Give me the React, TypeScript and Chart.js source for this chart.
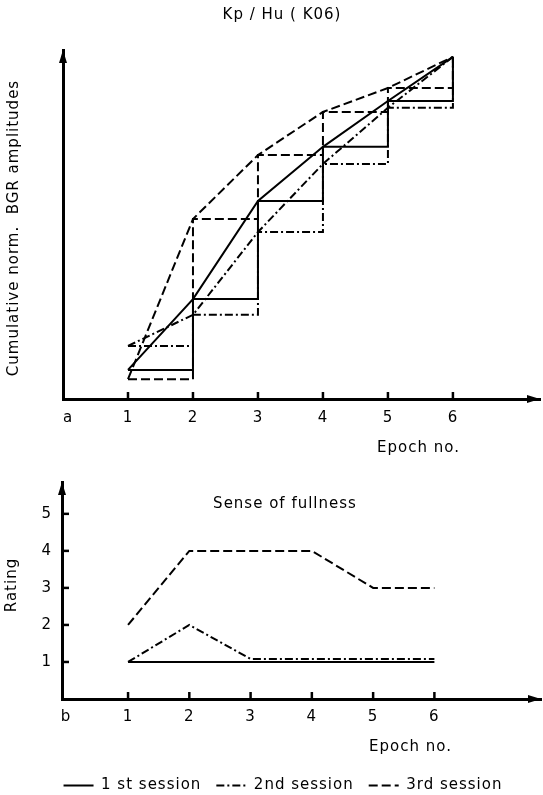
import React, { useEffect, useRef } from 'react';
import { Chart, registerables } from 'chart.js';

Chart.register(...registerables);

const FONT = '"DejaVu Sans", "Liberation Sans", sans-serif';
Chart.defaults.font.family = FONT;
Chart.defaults.font.size = 15;
Chart.defaults.color = '#000';

// Epochs on the horizontal axis of both panels
const epochs = [1, 2, 3, 4, 5, 6];

// Panel a: cumulative normalised BGR amplitudes (value at epoch 6 = 1)
const bgrSession1 = [0.085, 0.292, 0.579, 0.737, 0.871, 1.0];
const bgrSession2 = [0.155, 0.246, 0.488, 0.687, 0.851, 1.0];
const bgrSession3 = [0.058, 0.526, 0.713, 0.839, 0.909, 1.0];

// Panel b: sense of fullness rating
const ratingSession1 = [1, 1, 1, 1, 1, 1];
const ratingSession2 = [1, 2, 1.08, 1.08, 1.08, 1.08];
const ratingSession3 = [2, 4, 4, 4, 3, 3];
const ratingTicks = [1, 2, 3, 4, 5];

const sessionNames = ['1 st session', '2nd session', '3rd session'];

// line style per session: solid, dash-dot, dashed
const sessionDash: number[][] = [[], [8, 3, 2, 3], [9, 4]];

const INK = '#000';

const points = (vals: number[]) => epochs.map((e, i) => ({ x: e, y: vals[i] }));

// wider lettering, like stencil text
const lettering = {
  id: 'lettering',
  beforeUpdate(chart: any) {
    chart.ctx.letterSpacing = '1px';
  },
  beforeDraw(chart: any) {
    chart.ctx.letterSpacing = '1px';
  },
};

// arrowheads, tick stubs and free text around the axes
const axisDecor = {
  id: 'axisDecor',
  afterDraw(chart: any, _args: any, opts: any) {
    const { ctx, chartArea: ca, scales } = chart;
    const x = scales.x;
    const y = scales.y;
    const ax = ca.left;
    const ay = ca.bottom;
    ctx.save();
    ctx.fillStyle = INK;
    ctx.strokeStyle = INK;
    ctx.setLineDash([]);

    // arrowheads
    ctx.beginPath();
    ctx.moveTo(ax, ca.top);
    ctx.lineTo(ax - 4, ca.top + 13);
    ctx.lineTo(ax + 4, ca.top + 13);
    ctx.closePath();
    ctx.fill();
    ctx.beginPath();
    ctx.moveTo(ca.right, ay);
    ctx.lineTo(ca.right - 13, ay - 4);
    ctx.lineTo(ca.right - 13, ay + 4);
    ctx.closePath();
    ctx.fill();

    // tick stubs
    ctx.lineWidth = 2.5;
    epochs.forEach((v) => {
      const px = x.getPixelForValue(v);
      ctx.beginPath();
      ctx.moveTo(px, ay);
      ctx.lineTo(px, ay - 7);
      ctx.stroke();
    });
    if (opts.yStubs) {
      (opts.yStubs as number[]).forEach((v) => {
        const py = y.getPixelForValue(v);
        ctx.beginPath();
        ctx.moveTo(ax, py);
        ctx.lineTo(ax + 7, py);
        ctx.stroke();
      });
    }

    // texts
    ctx.font = `15px ${FONT}`;
    ctx.textBaseline = 'middle';
    ctx.textAlign = 'center';
    ctx.fillText(opts.title, opts.titleX, opts.titleY);
    ctx.fillText(opts.letter, opts.letterX, opts.letterY);
    ctx.textAlign = 'right';
    ctx.fillText('Epoch no.', opts.xTitleRight, opts.xTitleY);

    ctx.save();
    ctx.translate(opts.yLabelX, opts.yLabelY);
    ctx.rotate(-Math.PI / 2);
    ctx.textAlign = 'center';
    ctx.fillText(opts.yLabel, 0, 0);
    ctx.restore();

    ctx.restore();
  },
};

function topConfig(): any {
  const series = [bgrSession1, bgrSession2, bgrSession3];
  const datasets: any[] = [];
  series.forEach((vals, i) => {
    // straight line through the cumulative values
    datasets.push({
      label: sessionNames[i],
      data: points(vals),
      borderColor: INK,
      borderWidth: 2,
      borderDash: sessionDash[i],
      pointRadius: 0,
      fill: false,
      tension: 0,
    });
    // staircase of the same values
    datasets.push({
      label: sessionNames[i] + ' steps',
      data: points(vals),
      borderColor: INK,
      borderWidth: 2,
      borderDash: sessionDash[i],
      pointRadius: 0,
      fill: false,
      stepped: true,
    });
  });

  return {
    type: 'line',
    data: { datasets },
    options: {
      animation: false,
      responsive: false,
      devicePixelRatio: 1,
      layout: { padding: { left: 63, right: 3, top: 50, bottom: 0 } },
      plugins: {
        legend: { display: false },
        tooltip: { enabled: false },
        axisDecor: {
          title: 'Kp / Hu ( K06)',
          titleX: 282,
          titleY: 15,
          letter: 'a',
          letterX: 68,
          letterY: 418,
          xTitleRight: 460,
          xTitleY: 448,
          yLabel: 'Cumulative norm.  BGR amplitudes',
          yLabelX: 14,
          yLabelY: 228,
        },
      },
      scales: {
        x: {
          type: 'linear',
          min: 0,
          max: 7.34,
          grid: { display: false, drawTicks: false },
          border: { display: true, width: 3, color: INK },
          ticks: { padding: 10, color: INK, font: { size: 15 } },
          afterBuildTicks: (s: any) => {
            s.ticks = epochs.map((v) => ({ value: v }));
          },
          afterFit: (s: any) => {
            s.height = 61;
          },
        },
        y: {
          type: 'linear',
          min: 0,
          max: 1.02,
          grid: { display: false, drawTicks: false },
          border: { display: true, width: 3, color: INK },
          ticks: { display: false },
          afterFit: (s: any) => {
            s.width = 0;
          },
        },
      },
    },
    plugins: [lettering, axisDecor],
  };
}

function bottomConfig(): any {
  const series = [ratingSession1, ratingSession2, ratingSession3];
  const datasets = series.map((vals, i) => ({
    label: sessionNames[i],
    data: points(vals),
    borderColor: INK,
    backgroundColor: INK,
    borderWidth: 2,
    borderDash: sessionDash[i],
    pointRadius: 0,
    fill: false,
    tension: 0,
  }));

  return {
    type: 'line',
    data: { datasets },
    options: {
      animation: false,
      responsive: false,
      devicePixelRatio: 1,
      layout: { padding: { left: 25, right: 2, top: 22, bottom: 0 } },
      plugins: {
        legend: {
          display: true,
          position: 'bottom',
          align: 'center',
          labels: {
            usePointStyle: true,
            pointStyle: 'line',
            pointStyleWidth: 30,
            padding: 15,
            color: INK,
            font: { size: 15 },
            generateLabels: (chart: any) => {
              const items = Chart.defaults.plugins.legend.labels.generateLabels(chart);
              return items.map((item: any) => ({
                ...item,
                pointStyle: 'line',
                strokeStyle: INK,
                lineWidth: 2,
                lineDash: sessionDash[item.datasetIndex],
              }));
            },
          },
        },
        tooltip: { enabled: false },
        axisDecor: {
          title: 'Sense of fullness',
          titleX: 285,
          titleY: 44,
          letter: 'b',
          letterX: 66,
          letterY: 257,
          xTitleRight: 452,
          xTitleY: 287,
          yLabel: 'Rating',
          yLabelX: 12,
          yLabelY: 125,
          yStubs: ratingTicks,
        },
      },
      scales: {
        x: {
          type: 'linear',
          min: -0.078,
          max: 7.74,
          grid: { display: false, drawTicks: false },
          border: { display: true, width: 3, color: INK },
          ticks: { padding: 9, color: INK, font: { size: 15 } },
          afterBuildTicks: (s: any) => {
            s.ticks = epochs.map((v) => ({ value: v }));
          },
          afterFit: (s: any) => {
            s.height = 64;
          },
        },
        y: {
          type: 'linear',
          min: 0,
          max: 5.86,
          grid: { display: false, drawTicks: false },
          border: { display: true, width: 3, color: INK },
          ticks: { padding: 10, color: INK, font: { size: 15 } },
          afterBuildTicks: (s: any) => {
            s.ticks = ratingTicks.map((v) => ({ value: v }));
          },
          afterFit: (s: any) => {
            s.width = 37;
          },
        },
      },
    },
    plugins: [lettering, axisDecor],
  };
}

export default function App() {
  const topRef = useRef<HTMLCanvasElement>(null);
  const bottomRef = useRef<HTMLCanvasElement>(null);

  useEffect(() => {
    const top = new Chart(topRef.current as HTMLCanvasElement, topConfig());
    const bottom = new Chart(bottomRef.current as HTMLCanvasElement, bottomConfig());
    return () => {
      top.destroy();
      bottom.destroy();
    };
  }, []);

  return (
    <div
      style={{
        position: 'fixed',
        left: 0,
        top: 0,
        width: 543,
        height: 795,
        overflow: 'hidden',
        background: '#fff',
      }}
    >
      <canvas
        ref={topRef}
        width={543}
        height={460}
        style={{ position: 'absolute', left: 0, top: 0, width: 543, height: 460 }}
      />
      <canvas
        ref={bottomRef}
        width={543}
        height={343}
        style={{ position: 'absolute', left: 0, top: 460, width: 543, height: 343 }}
      />
    </div>
  );
}
